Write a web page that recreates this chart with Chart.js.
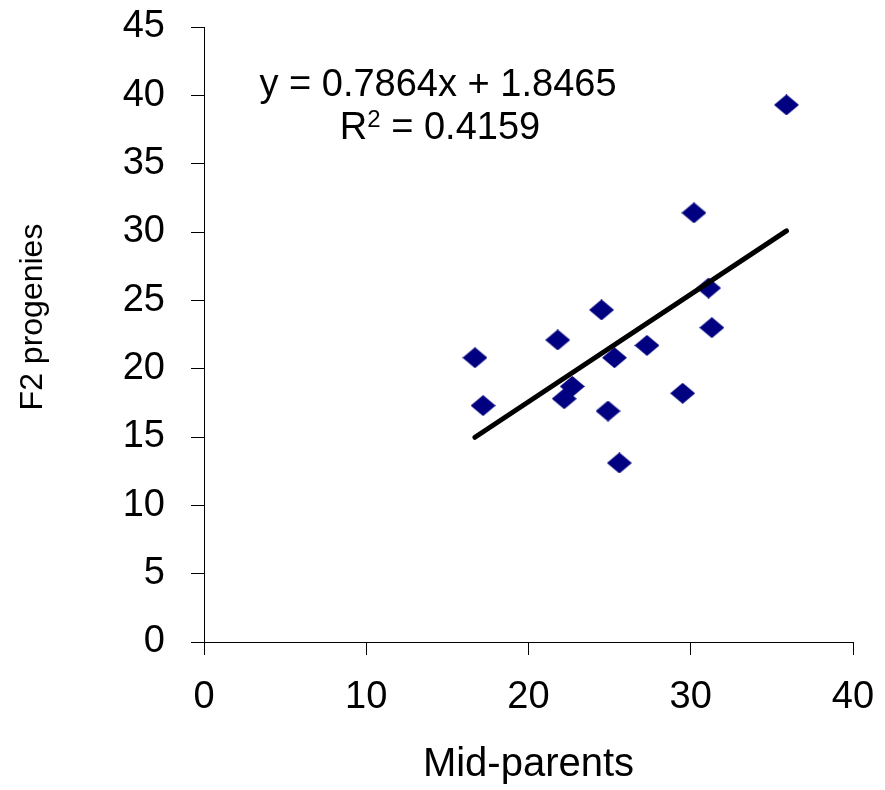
<!DOCTYPE html>
<html>
<head>
<meta charset="utf-8">
<script src="https://cdn.jsdelivr.net/npm/chart.js@4/dist/chart.umd.min.js"></script>
<style>
  html, body { margin: 0; padding: 0; background: #fff; }
  #wrap { width: 885px; height: 790px; }
</style>
</head>
<body>
<div id="wrap"><canvas id="c" width="885" height="790"></canvas></div>
<script>
// --- data ---
const midParents = [35.9, 30.2, 31.1, 31.3, 24.5, 21.8, 16.7, 27.3, 25.3, 17.2, 22.7, 22.2, 24.9, 29.5, 25.6];
const f2Progenies = [39.3, 31.4, 25.9, 23.0, 24.3, 22.1, 20.8, 21.7, 20.8, 17.3, 18.7, 17.8, 16.9, 18.2, 13.1];
const slope = 0.7864;
const intercept = 1.8465;
const rSquared = '0.4159';
const xTicks = [0, 10, 20, 30, 40];
const yTicks = [0, 5, 10, 15, 20, 25, 30, 35, 40, 45];
const yTitle = 'F2 progenies';

const points = midParents.map((x, i) => ({ x: x, y: f2Progenies[i] }));
const xMin = Math.min(...midParents), xMax = Math.max(...midParents);
const trend = [xMin, xMax].map(x => ({ x: x, y: slope * x + intercept }));

// --- flattened diamond marker ---
const marker = document.createElement('canvas');
marker.width = 25; marker.height = 21;
const mctx = marker.getContext('2d');
mctx.fillStyle = '#000080';
mctx.beginPath();
mctx.moveTo(12.5, 0); mctx.lineTo(25, 10.5); mctx.lineTo(12.5, 21); mctx.lineTo(0, 10.5);
mctx.closePath(); mctx.fill();

const FONT = "'Liberation Sans', Arial, sans-serif";

// --- equation text + y title (sits a bit above the axis middle) ---
const equationLabel = {
    id: 'equationLabel',
    afterDraw(chart) {
        const ctx = chart.ctx;
        ctx.save();
        ctx.fillStyle = '#000';
        ctx.textBaseline = 'middle';
        ctx.font = `38px ${FONT}`;
        ctx.textAlign = 'center';
        ctx.fillText(`y = ${slope}x + ${intercept}`, 438, 86);
        // R² line, superscript by hand
        const rest = ` = ${rSquared}`;
        const wR = ctx.measureText('R').width;
        const wRest = ctx.measureText(rest).width;
        ctx.font = `24px ${FONT}`;
        const w2 = ctx.measureText('2').width;
        let x = 440 - (wR + w2 + wRest) / 2;
        ctx.textAlign = 'left';
        ctx.font = `38px ${FONT}`;
        ctx.fillText('R', x, 129);
        ctx.font = `24px ${FONT}`;
        ctx.fillText('2', x + wR, 120);
        ctx.font = `38px ${FONT}`;
        ctx.fillText(rest, x + wR + w2, 129);

        ctx.translate(33, 317);
        ctx.rotate(-Math.PI / 2);
        ctx.textAlign = 'center';
        ctx.font = `32px ${FONT}`;
        ctx.fillText(yTitle, 0, 0);
        ctx.restore();
    }
};

new Chart(document.getElementById('c'), {
    type: 'scatter',
    data: {
        datasets: [
            { type: 'line', data: trend, borderColor: '#000', borderWidth: 5, borderCapStyle: 'round', pointRadius: 0, fill: false, order: 0 },
            { data: points, pointStyle: marker, pointRadius: 12, backgroundColor: '#000080', borderWidth: 0, order: 1 }
        ]
    },
    options: {
        responsive: false,
        animation: false,
        layout: { padding: { left: 0, top: 27, right: 32, bottom: 0 } },
        plugins: { legend: { display: false }, tooltip: { enabled: false } },
        scales: {
            x: {
                type: 'linear', min: 0, max: 40,
                afterBuildTicks: s => { s.ticks = xTicks.map(v => ({ value: v })); },
                afterFit: s => { s.height = 148; s.paddingLeft = 0; s.paddingRight = 0; },
                border: { display: true, color: '#000', width: 1 },
                grid: { display: true, drawOnChartArea: false, drawTicks: true, tickLength: 13, color: '#000' },
                ticks: { color: '#000', padding: 20, font: { family: FONT, size: 38 } },
                title: { display: true, text: 'Mid-parents', color: '#000', padding: { top: 0, bottom: 1 }, font: { family: FONT, size: 40 } }
            },
            y: {
                type: 'linear', min: 0, max: 45,
                afterBuildTicks: s => { s.ticks = yTicks.map(v => ({ value: v })); },
                afterFit: s => { s.width = 204; s.paddingTop = 0; s.paddingBottom = 0; },
                border: { display: true, color: '#000', width: 1 },
                grid: { display: true, drawOnChartArea: false, drawTicks: true, tickLength: 13, color: '#000' },
                ticks: { color: '#000', padding: 26, font: { family: FONT, size: 38 } },
                title: { display: false }
            }
        }
    },
    plugins: [equationLabel]
});
</script>
</body>
</html>
